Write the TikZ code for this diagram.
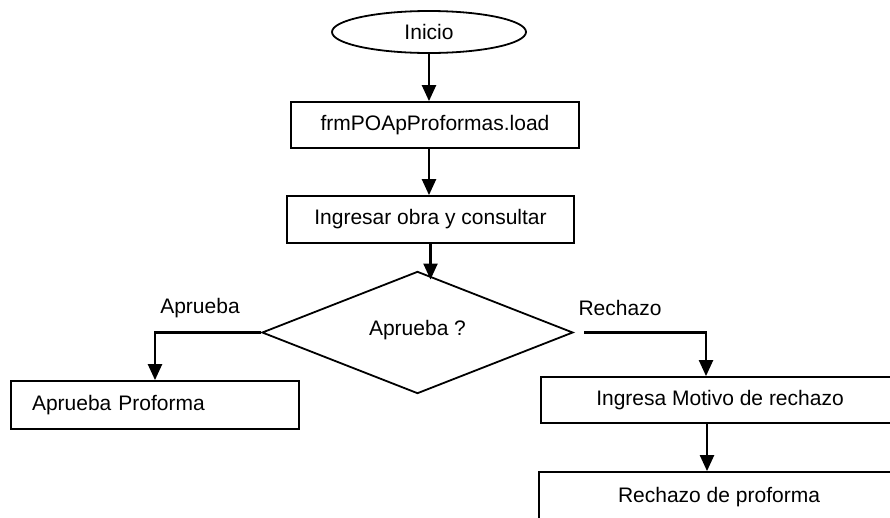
\documentclass[tikz,border=0pt]{standalone}
\usepackage{fontspec}
\setmainfont{Liberation Sans}
\usetikzlibrary{shapes.geometric,arrows.meta,calc}
\begin{document}
\begin{tikzpicture}[x=1pt,y=-1pt,
  every node/.style={font=\fontsize{21}{25}\selectfont},
  box/.style={draw,line width=1.8pt,rectangle,inner sep=0pt},
  flow/.style={line width=2.3pt,-{Triangle[width=14pt,length=16pt]}},
  lbl/.style={inner sep=0pt}]
\useasboundingbox (0,0) rectangle (890,517);
\node[draw,line width=1.8pt,ellipse,minimum width=194pt,minimum height=42pt,inner sep=0pt] (start) at (429,32) {Inicio};
\node[box,minimum width=288pt,minimum height=46pt] (b1) at (435,125) {frmPOApProformas.load};
\node[box,minimum width=287pt,minimum height=47pt] (b2) at (430.5,219.5) {Ingresar obra y consultar};
\node[draw,line width=1.8pt,diamond,minimum width=311pt,minimum height=119pt,inner sep=0pt] (d) at (417.5,332.5) {\raisebox{10pt}{Aprueba ?}};
\node[box,minimum width=288pt,minimum height=48pt,text width=246pt,inner xsep=21pt,align=left] (b3) at (155,405) {Aprueba Proforma};
\node[box,minimum width=358pt,minimum height=46pt] (b4) at (720,400) {Ingresa Motivo de rechazo};
\node[box,minimum width=360pt,minimum height=50pt] (b5) at (719,497) {Rechazo de proforma};
\node[lbl] (la) at (200,308) {Aprueba};
\node[lbl] (lr) at (620,308) {Rechazo};
\coordinate (rs) at (584,332.5);
\draw[flow] (start.south) -- (start.south |- b1.north);
\draw[flow] (start.south |- b1.south) -- (start.south |- b2.north);
\draw[flow] (b2.south) -- ($(b2.south |- d.north)+(0,9)$);
\draw[flow] (d.west) -| (b3.north);
\draw[flow] (rs) -| ([xshift=-14pt]b4.north);
\draw[flow] ([xshift=-13pt]b4.south) -- ([xshift=-13pt]b4.south |- b5.north);
\end{tikzpicture}
\end{document}
